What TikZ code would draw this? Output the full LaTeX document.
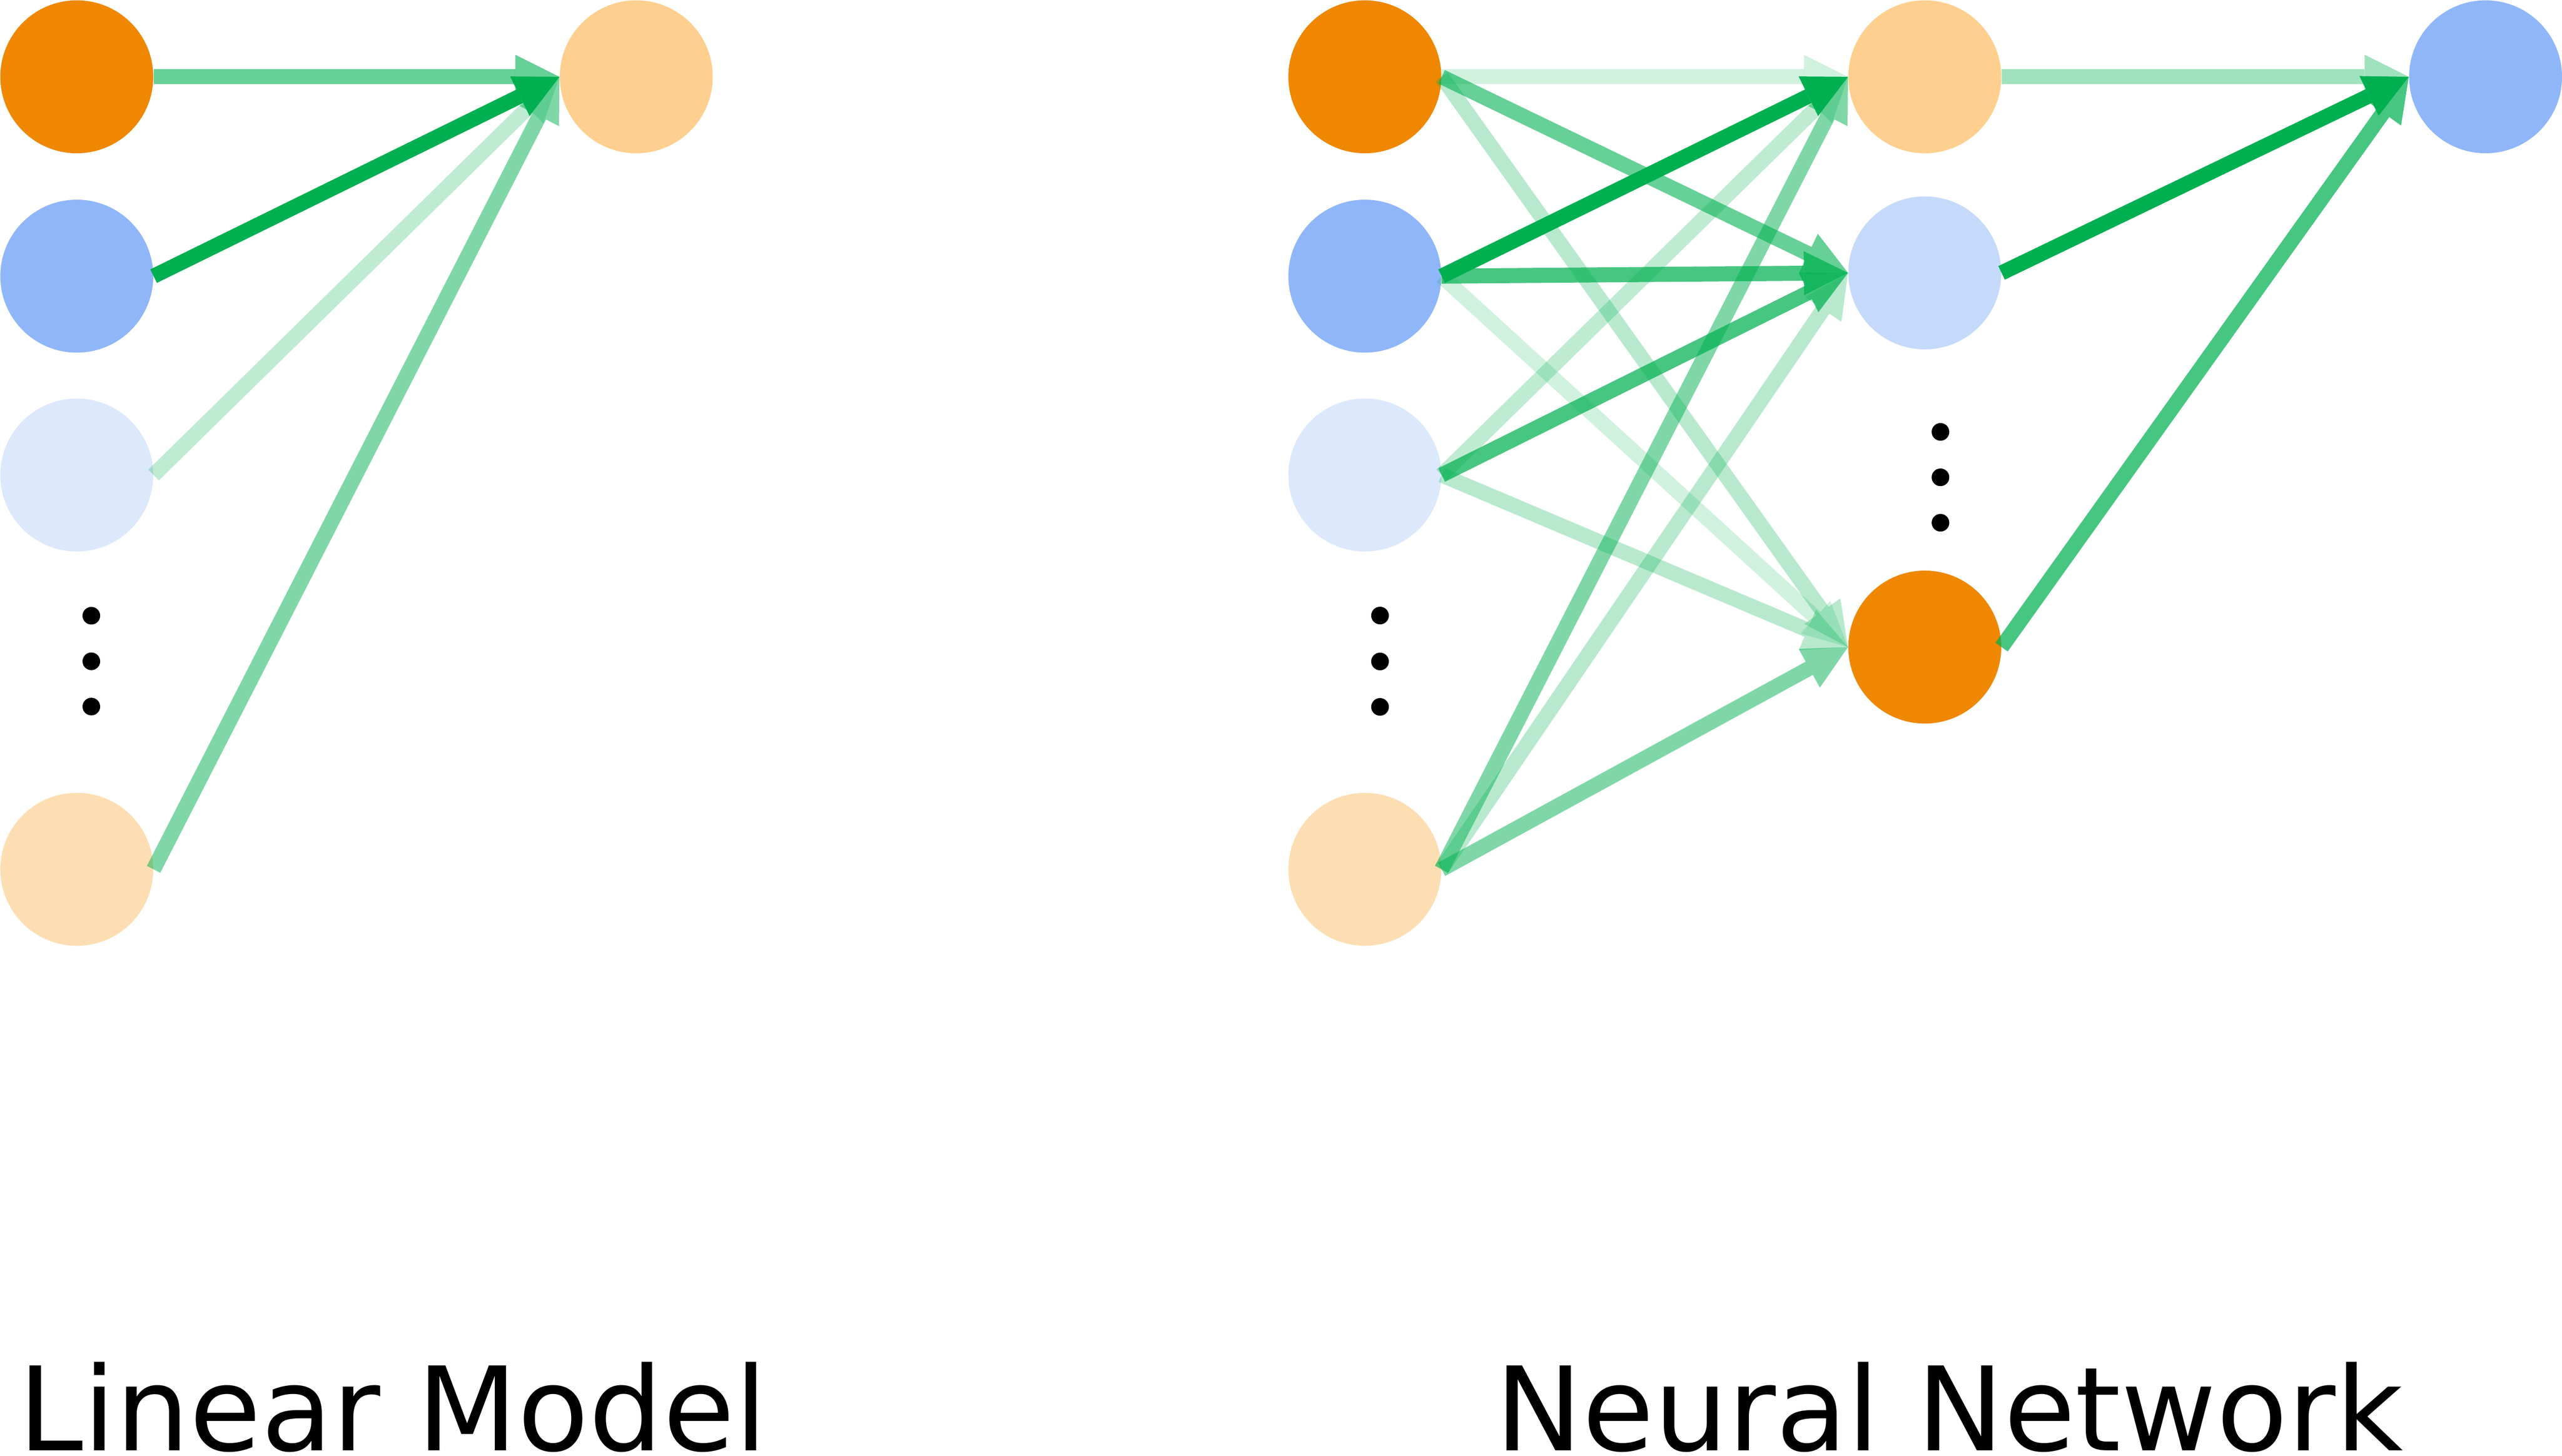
\documentclass[tikz,border=0pt]{standalone}
\usepackage{fontspec}
\setmainfont{DejaVu Sans}
\usetikzlibrary{arrows.meta}
\definecolor{cOrange}{RGB}{239,135,0}
\definecolor{cLOrange}{RGB}{254,207,142}
\definecolor{cPeach}{RGB}{253,222,179}
\definecolor{cBlue}{RGB}{144,182,250}
\definecolor{cLBlue}{RGB}{197,217,250}
\definecolor{cVLBlue}{RGB}{220,232,252}
\definecolor{cGreen}{RGB}{0,176,80}
\tikzset{
  neuron/.style={circle, minimum size=93.6pt, inner sep=0pt, draw=none, fill=#1},
  dotmark/.style={circle, minimum size=10.8pt, inner sep=0pt, fill=black},
  conn/.style={line width=9.2pt, draw=cGreen, opacity=#1, -{Triangle[length=27pt,width=27pt,line width=0pt]}},
  title/.style={anchor=base west, inner sep=0pt, font=\fontsize{71.3}{80}\selectfont}
}
\begin{document}
\begin{tikzpicture}[x=1pt,y=-1pt]
\useasboundingbox (0,0) rectangle (1568,891);
% Linear model
\node[neuron=cOrange] (L1) at (47,47) {};
\node[neuron=cBlue] (L2) at (47,169) {};
\node[neuron=cVLBlue] (L3) at (47,290.7) {};
\node[neuron=cPeach] (L4) at (47,532) {};
\node[neuron=cLOrange] (T) at (389.4,47) {};
\node[dotmark] (ld1) at (55.9,376.8) {};
\node[dotmark] (ld2) at (55.9,404.7) {};
\node[dotmark] (ld3) at (55.9,432.4) {};
\draw[conn=0.6] (L1.east) -- (T.west);
\draw[conn=1] (L2.east) -- (T.west);
\draw[conn=0.25] (L3.east) -- (T.west);
\draw[conn=0.5] (L4.east) -- (T.west);
% Neural network
\node[neuron=cOrange] (I1) at (835.3,47) {};
\node[neuron=cBlue] (I2) at (835.3,169) {};
\node[neuron=cVLBlue] (I3) at (835.3,290.7) {};
\node[neuron=cPeach] (I4) at (835.3,532) {};
\node[dotmark] (nd1) at (844.6,376.7) {};
\node[dotmark] (nd2) at (844.6,404.8) {};
\node[dotmark] (nd3) at (844.6,432.6) {};
\node[neuron=cLOrange] (H1) at (1178,47) {};
\node[neuron=cLBlue] (H2) at (1178,167) {};
\node[neuron=cOrange] (H3) at (1178,396) {};
\node[dotmark] (hd1) at (1187.6,264.3) {};
\node[dotmark] (hd2) at (1187.6,292.1) {};
\node[dotmark] (hd3) at (1187.6,319.9) {};
\node[neuron=cBlue] (O) at (1521.2,47) {};
\draw[conn=0.18] (I1.east) -- (H1.west);
\draw[conn=0.6] (I1.east) -- (H2.west);
\draw[conn=0.28] (I1.east) -- (H3.west);
\draw[conn=1] (I2.east) -- (H1.west);
\draw[conn=0.72] (I2.east) -- (H2.west);
\draw[conn=0.18] (I2.east) -- (H3.west);
\draw[conn=0.25] (I3.east) -- (H1.west);
\draw[conn=0.72] (I3.east) -- (H2.west);
\draw[conn=0.28] (I3.east) -- (H3.west);
\draw[conn=0.5] (I4.east) -- (H1.west);
\draw[conn=0.28] (I4.east) -- (H2.west);
\draw[conn=0.5] (I4.east) -- (H3.west);
\draw[conn=0.37] (H1.east) -- (O.west);
\draw[conn=1] (H2.east) -- (O.west);
\draw[conn=0.72] (H3.east) -- (O.west);
% titles
\node[title] (t1) at (11,887.6) {Linear Model};
\node[title] (t2) at (915,887.6) {Neural Network};
\end{tikzpicture}
\end{document}
